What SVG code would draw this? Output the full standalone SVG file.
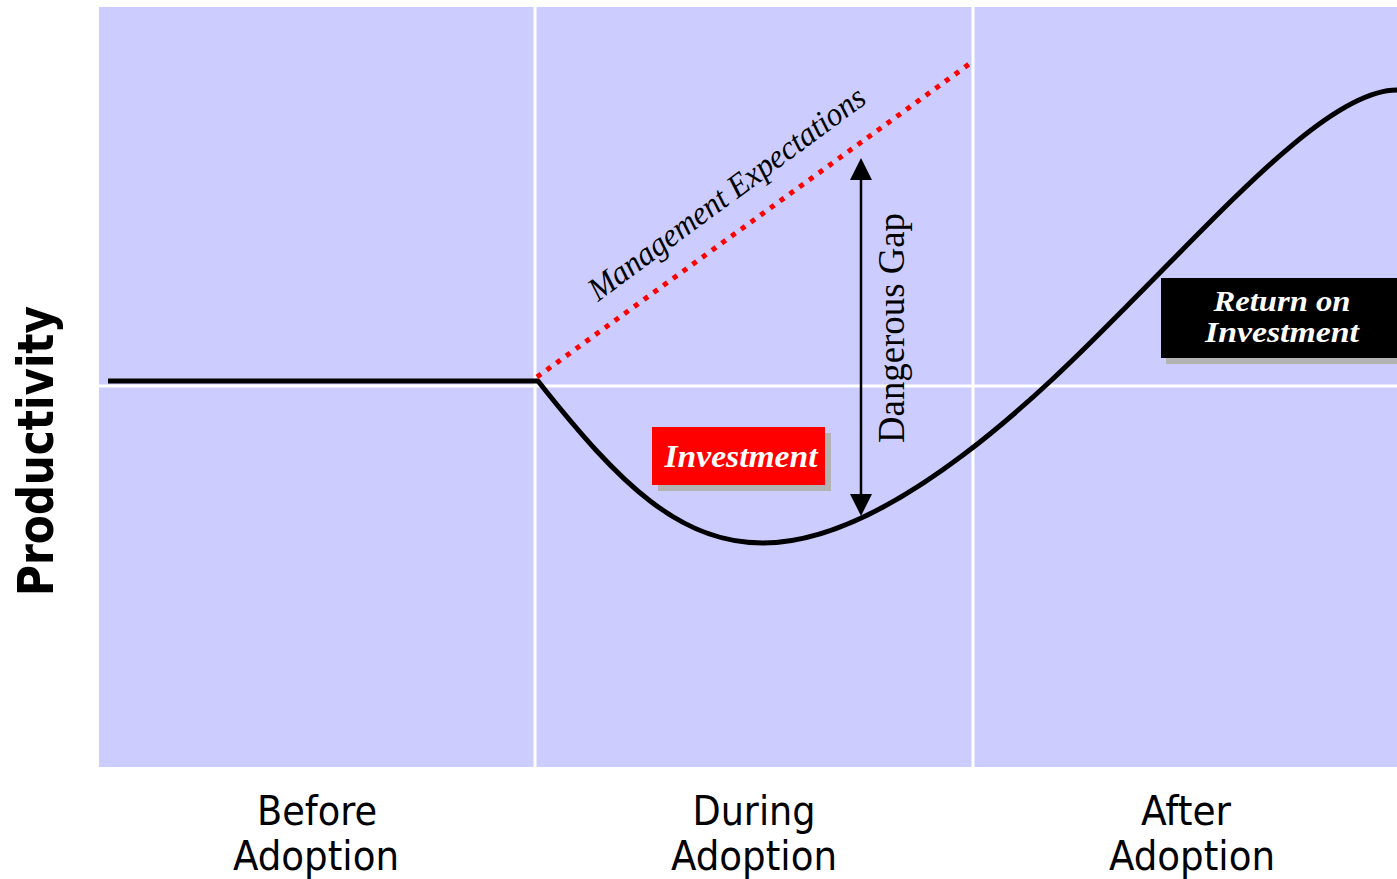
<svg xmlns="http://www.w3.org/2000/svg" width="1397" height="879" viewBox="0 0 1397 879">
<style>
.grid{stroke:#FFFFFF;stroke-width:3;fill:none}
.curve{stroke:#000000;stroke-width:5;fill:none;stroke-linejoin:round}
.axis{font-family:"DejaVu Sans Condensed","DejaVu Sans",sans-serif;font-size:41px;fill:#000000;text-anchor:middle}
.box{font-family:"Liberation Serif",serif;font-style:italic;font-weight:bold;fill:#FFFFFF;text-anchor:middle}
.shadow{fill:#B3B3B3}
</style>
<defs>
<marker id="ah" viewBox="0 0 22 22" refX="12" refY="11" markerWidth="22" markerHeight="22" markerUnits="userSpaceOnUse" orient="auto-start-reverse">
<path d="M0,0 L22,11 L0,22 z" fill="#000000"/>
</marker>
</defs>
<rect width="1397" height="879" fill="#FFFFFF"/>
<g id="plot">
<rect x="99" y="7" width="1300" height="760" fill="#CCCCFF"/>
<line class="grid" x1="535" y1="7" x2="535" y2="767"/>
<line class="grid" x1="973" y1="7" x2="973" y2="767"/>
<line class="grid" x1="99" y1="386" x2="1397" y2="386"/>
</g>
<g id="connectors">
<path id="productivity-curve" class="curve" d="M108,381 H538 C620,485 680,543 763,543 C900,543 1070,363 1127,306 C1227,206 1330,90 1397,90"/>
<line id="expectations-line" x1="537" y1="377" x2="972" y2="62" stroke="#FF0000" stroke-width="5" stroke-dasharray="5 7"/>
<line id="gap-arrow" x1="861" y1="168" x2="861" y2="506" stroke="#000000" stroke-width="2.5" marker-start="url(#ah)" marker-end="url(#ah)"/>
</g>
<g id="label-expectations">
<text x="733" y="202" transform="rotate(-36.5 733 202)" font-family="'Liberation Serif',serif" font-style="italic" font-size="33" fill="#000000" text-anchor="middle" textLength="336" lengthAdjust="spacingAndGlyphs">Management Expectations</text>
</g>
<g id="label-gap">
<text x="904" y="328" transform="rotate(-90 904 328)" font-family="'Liberation Serif',serif" font-size="37" fill="#000000" text-anchor="middle" textLength="230" lengthAdjust="spacingAndGlyphs">Dangerous Gap</text>
</g>
<g id="investment">
<rect class="shadow" x="658" y="433" width="173" height="58"/>
<rect x="652" y="427" width="173" height="58" fill="#FF0000"/>
<text class="box" x="741" y="467" font-size="32" textLength="153" lengthAdjust="spacingAndGlyphs">Investment</text>
</g>
<g id="roi">
<rect class="shadow" x="1166" y="283" width="240" height="81"/>
<rect x="1161" y="278" width="240" height="80" fill="#000000"/>
<text class="box" x="1282" y="311" font-size="29" textLength="137" lengthAdjust="spacingAndGlyphs">Return on</text>
<text class="box" x="1282" y="342" font-size="29" textLength="154" lengthAdjust="spacingAndGlyphs">Investment</text>
</g>
<g id="y-axis-label">
<text x="53" y="451" transform="rotate(-90 53 451)" font-family="'DejaVu Sans Condensed','DejaVu Sans',sans-serif" font-weight="bold" font-size="50" fill="#000000" text-anchor="middle" textLength="290" lengthAdjust="spacingAndGlyphs">Productivity</text>
</g>
<g id="label-before">
<text class="axis" x="317" y="825" textLength="120" lengthAdjust="spacingAndGlyphs">Before</text>
<text class="axis" x="316" y="870" textLength="166" lengthAdjust="spacingAndGlyphs">Adoption</text>
</g>
<g id="label-during">
<text class="axis" x="754" y="825" textLength="123" lengthAdjust="spacingAndGlyphs">During</text>
<text class="axis" x="754" y="870" textLength="166" lengthAdjust="spacingAndGlyphs">Adoption</text>
</g>
<g id="label-after">
<text class="axis" x="1186" y="825" textLength="90" lengthAdjust="spacingAndGlyphs">After</text>
<text class="axis" x="1192" y="870" textLength="166" lengthAdjust="spacingAndGlyphs">Adoption</text>
</g>
</svg>
